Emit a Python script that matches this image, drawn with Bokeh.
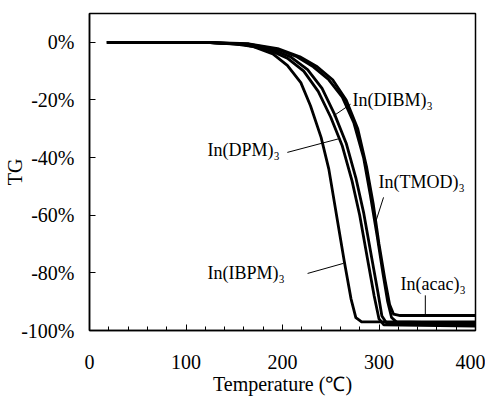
from bokeh.plotting import figure
from bokeh.models import Range1d, FixedTicker, PrintfTickFormatter, ColumnDataSource
from bokeh.core.properties import value
from bokeh.embed import file_html
from bokeh.resources import INLINE

# ---- data (temperature in degC, TG in %) ----
ibpm_t = [18, 120, 150, 170, 190, 205, 219, 229, 240, 248, 256, 264, 271, 276, 282, 400]
ibpm_v = [0, 0, -0.5, -1.5, -4, -8, -14, -22, -33, -44, -60, -76, -89, -95.5, -97, -97]

dpm_t = [18, 120, 160, 185, 205, 222, 237, 250, 262, 272, 280, 288, 295, 300, 305, 400]
dpm_v = [0, 0, -0.8, -2.5, -5.5, -10, -17, -26, -36, -48, -60, -75, -88, -96, -98, -98.5]

dibm_t = [18, 120, 162, 188, 208, 226, 241, 254, 266, 276, 284, 292, 299, 303, 308, 400]
dibm_v = [0, 0, -0.7, -2.3, -5, -9.5, -16, -25, -35, -47, -59, -74, -87, -95, -97.5, -98]

tmod_t = [18, 120, 165, 195, 215, 232, 248, 262, 274, 284, 291, 298, 304, 309, 313, 318, 400]
tmod_v = [0, 0, -0.6, -2.5, -5, -8.5, -13, -19, -28, -40, -53, -67, -80, -90, -95.5, -97, -97.5]

acac_t = [18, 120, 165, 195, 218, 236, 252, 266, 278, 287, 294, 300, 306, 311, 315, 322, 400]
acac_v = [0, 0, -0.5, -2.2, -5, -8.5, -13, -20, -30, -43, -56, -70, -82, -91, -94.3, -94.8, -94.8]

x_ticks = [0, 100, 200, 300, 400]
x_minor = list(range(0, 401, 20))
y_ticks = [-100, -80, -60, -40, -20, 0]

labels = ["In(DIBM)\u2083", "In(DPM)\u2083", "In(TMOD)\u2083", "In(IBPM)\u2083", "In(acac)\u2083"]
label_x = [272.5, 122.3, 299.5, 122.3, 322.3]
label_y = [-20.1, -37.5, -48.6, -79.9, -83.7]
leader_x0 = [270.5, 205, 304.7, 226, 348]
leader_y0 = [-21.5, -38.2, -53.8, -80.2, -87.8]
leader_x1 = [253, 258, 296.4, 263.2, 348]
leader_y1 = [-25.5, -33.5, -62.5, -76.7, -95.0]

FONT = "Liberation Serif"

p = figure(width=485, height=399, output_backend="svg", toolbar_location=None,
           x_range=Range1d(0, 400), y_range=Range1d(-100, 10),
           min_border_left=89, min_border_right=10, min_border_top=13, min_border_bottom=69)
p.xgrid.visible = False
p.ygrid.visible = False
p.outline_line_color = "black"
p.outline_line_width = 1.5
p.background_fill_color = "white"
p.border_fill_color = "white"

for t, v in [(ibpm_t, ibpm_v), (dpm_t, dpm_v), (dibm_t, dibm_v), (tmod_t, tmod_v), (acac_t, acac_v)]:
    p.line(t, v, line_color="black", line_width=2.8, line_join="round")

src = ColumnDataSource(dict(x=label_x, y=label_y, text=labels))
p.text(x="x", y="y", text="text", source=src, text_font=value(FONT), text_font_size="18px",
       text_baseline="middle", text_align="left", text_color="black")
p.segment(x0=leader_x0, y0=leader_y0, x1=leader_x1, y1=leader_y1, line_color="black", line_width=1)

p.xaxis.ticker = FixedTicker(ticks=x_ticks, minor_ticks=x_minor)
p.yaxis.ticker = FixedTicker(ticks=y_ticks, minor_ticks=[])
p.yaxis.formatter = PrintfTickFormatter(format="%d%%")

for ax in [p.xaxis[0], p.yaxis[0]]:
    ax.major_tick_in = 6
    ax.major_tick_out = 0
    ax.minor_tick_in = 4
    ax.minor_tick_out = 0
    ax.axis_line_width = 1.5
    ax.axis_line_color = "black"
    ax.major_tick_line_color = "black"
    ax.minor_tick_line_color = "black"
    ax.major_label_text_font = FONT
    ax.major_label_text_font_size = "20px"
    ax.major_label_text_color = "black"
    ax.axis_label_text_font = FONT
    ax.axis_label_text_font_size = "20px"
    ax.axis_label_text_font_style = "normal"
    ax.axis_label_text_color = "black"

p.xaxis.axis_label = "Temperature (\u2103)"
p.yaxis.axis_label = "TG"
p.xaxis.major_label_standoff = 24
p.yaxis.major_label_standoff = 15
p.xaxis.axis_label_standoff = 1
p.yaxis.axis_label_standoff = -8

open("out.html", "w").write(file_html(p, INLINE))
